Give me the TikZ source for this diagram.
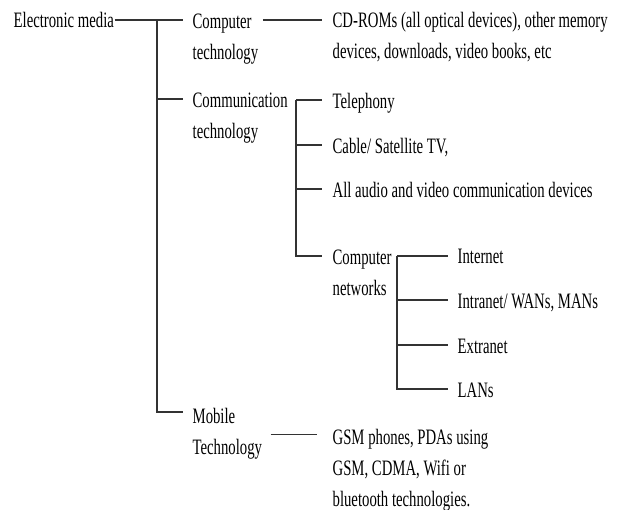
\documentclass[tikz,border=0pt]{standalone}
\usepackage{fontspec}
\setmainfont{Liberation Serif}[FakeStretch=0.67]

\begin{document}
\begin{tikzpicture}[x=1pt, y=-1pt, line width=1.3pt, draw=black!80,
  item/.style={inner sep=0pt, anchor=north west, align=left, font=\fontsize{22}{31}\selectfont}]
  \useasboundingbox (0,0) rectangle (620,510);

  \node[item] (em) at (13,12) {Electronic media};
  \node[item] (ct) at (192,13) {Computer\\technology};
  \node[item] (cd) at (332,12) {CD-ROMs (all optical devices), other memory\\devices, downloads, video books, etc};
  \node[item] (cm) at (192,92) {Communication\\technology};
  \node[item] (tel) at (332,93) {Telephony};
  \node[item] (cab) at (332,138) {Cable/ Satellite TV,};
  \node[item] (aud) at (332,182) {All audio and video communication devices};
  \node[item] (cn) at (332,249) {Computer\\networks};
  \node[item] (int) at (457,248) {Internet};
  \node[item] (intra) at (457,293) {Intranet/ WANs, MANs};
  \node[item] (ext) at (457,338) {Extranet};
  \node[item] (lan) at (457,382) {LANs};
  \node[item] (mob) at (192,408) {Mobile\\Technology};
  \node[item] (gsm) at (332,429) {GSM phones, PDAs using\\GSM, CDMA, Wifi or\\bluetooth technologies.};

  \coordinate (j1) at (157,20);
  \coordinate (j2) at (296,100);
  \coordinate (j3) at (397,256);

  % main trunk
  \draw ([yshift=-8pt]em.north east) -- ([xshift=-9pt,yshift=-7pt]ct.north west);
  \draw (j1) |- ([xshift=-9pt,yshift=-4pt]mob.north west);
  \draw ([yshift=-7pt]cm.north west -| j1) -- ([xshift=-9pt,yshift=-7pt]cm.north west);
  \draw ([xshift=4pt,yshift=-7pt]ct.north east) -- ([xshift=-10pt,yshift=-8pt]cd.north west);

  % communication
  \draw (j2) -- ([xshift=-10pt,yshift=-7pt]tel.north west);
  \draw (j2) |- ([xshift=-10pt,yshift=-7pt]cn.north west);
  \draw ([yshift=-7pt]cab.north west -| j2) -- ([xshift=-10pt,yshift=-7pt]cab.north west);
  \draw ([yshift=-7pt]aud.north west -| j2) -- ([xshift=-10pt,yshift=-7pt]aud.north west);

  % networks
  \draw (j3) -- ([xshift=-9pt,yshift=-8pt]int.north west);
  \draw (j3) |- ([xshift=-9pt,yshift=-7pt]lan.north west);
  \draw ([yshift=-7pt]intra.north west -| j3) -- ([xshift=-9pt,yshift=-7pt]intra.north west);
  \draw ([yshift=-7pt]ext.north west -| j3) -- ([xshift=-9pt,yshift=-7pt]ext.north west);

  % mobile
  \draw ([xshift=8pt]mob.east) -- ([xshift=-15pt]mob.east -| gsm.west);
\end{tikzpicture}
\end{document}
